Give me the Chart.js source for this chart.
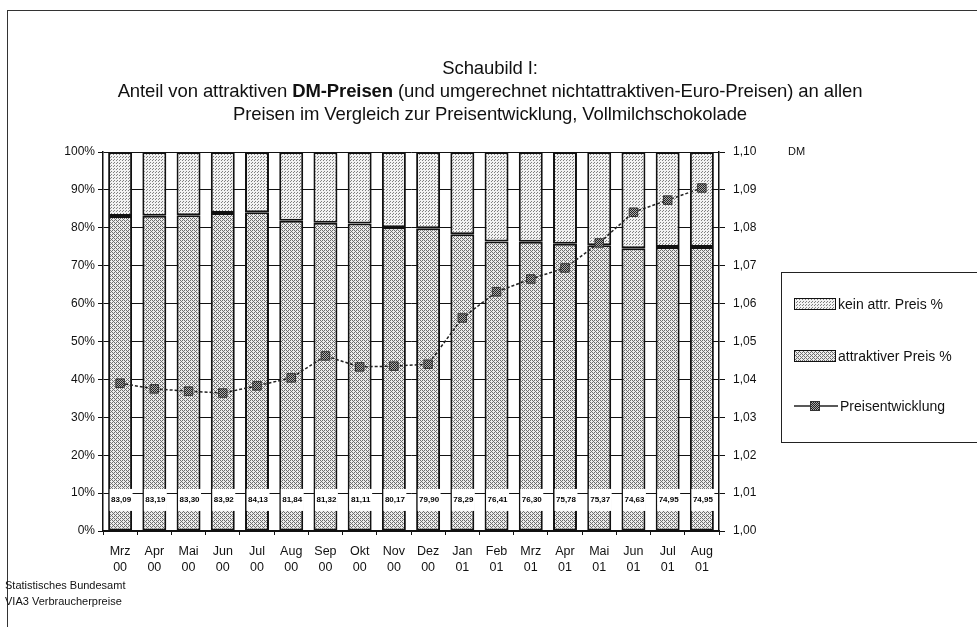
<!DOCTYPE html>
<html>
<head>
<meta charset="utf-8">
<script src="https://cdn.jsdelivr.net/npm/chart.js@4.4.0/dist/chart.umd.min.js"></script>
<style>
  body { margin: 0; background: #fff; font-family: "Liberation Sans", Arial, sans-serif; color: #111; }
  #wrap { position: relative; width: 977px; height: 627px; overflow: hidden; }
  #frame { position: absolute; left: 7px; top: 10px; width: 980px; height: 630px; border-top: 1px solid #333; border-left: 1px solid #333; }
  #c { position: absolute; left: 0; top: 0; }
  .t { position: absolute; left: 0; width: 980px; text-align: center; font-size: 18.5px; white-space: nowrap; letter-spacing: -0.1px; }
  .note { position: absolute; left: 5px; font-size: 11px; }
  #dm { position: absolute; left: 788px; top: 145px; font-size: 11px; }
  #legend { position: absolute; left: 781px; top: 272px; width: 220px; height: 169px; border: 1px solid #222; }
  .li { position: absolute; left: 12px; font-size: 14px; white-space: nowrap; }
  .li canvas { vertical-align: middle; margin-right: 2px; position: relative; top: -1px; }
</style>
</head>
<body>
<div id="wrap">
  <div id="frame"></div>
  <canvas id="c" width="977" height="627"></canvas>
  <div class="t" style="top:57px">Schaubild I:</div>
  <div class="t" style="top:80px">Anteil von attraktiven <b>DM-Preisen</b> (und umgerechnet nichtattraktiven-Euro-Preisen) an allen</div>
  <div class="t" style="top:103px">Preisen im Vergleich zur Preisentwicklung, Vollmilchschokolade</div>
  <div id="dm">DM</div>
  <div id="legend">
    <div class="li" style="top:23px"><canvas id="sw1" width="42" height="12"></canvas>kein attr. Preis %</div>
    <div class="li" style="top:75px"><canvas id="sw2" width="42" height="12"></canvas>attraktiver Preis %</div>
    <div class="li" style="top:125px"><canvas id="sw3" width="44" height="14"></canvas>Preisentwicklung</div>
  </div>
  <div class="note" style="top:579px">Statistisches Bundesamt</div>
  <div class="note" style="top:595px">VIA3 Verbraucherpreise</div>
</div>
<script>
var months = ['Mrz', 'Apr', 'Mai', 'Jun', 'Jul', 'Aug', 'Sep', 'Okt', 'Nov', 'Dez', 'Jan', 'Feb', 'Mrz', 'Apr', 'Mai', 'Jun', 'Jul', 'Aug'];
var years = ['00', '00', '00', '00', '00', '00', '00', '00', '00', '00', '01', '01', '01', '01', '01', '01', '01', '01'];
var attraktiv = [83.09, 83.19, 83.30, 83.92, 84.13, 81.84, 81.32, 81.11, 80.17, 79.90, 78.29, 76.41, 76.30, 75.78, 75.37, 74.63, 74.95, 74.95];
var keinAttr = [16.91, 16.81, 16.70, 16.08, 15.87, 18.16, 18.68, 18.89, 19.83, 20.10, 21.71, 23.59, 23.70, 24.22, 24.63, 25.37, 25.05, 25.05];
var preis = [1.0390, 1.0375, 1.0369, 1.0364, 1.0383, 1.0404, 1.0462, 1.0433, 1.0435, 1.0440, 1.0562, 1.0631, 1.0665, 1.0694, 1.0760, 1.0841, 1.0873, 1.0905];

var labels = months.map(function (m, i) { return [m, years[i]]; });

// dotted fills like the scanned print
function pattern(ctx, kind) {
    var p = document.createElement('canvas');
    var g = p.getContext('2d');
    if (kind === 'light') {
        p.width = 3; p.height = 3;
        g.fillStyle = '#f2f2f2'; g.fillRect(0, 0, 3, 3);
        g.fillStyle = '#808080'; g.fillRect(0, 0, 1, 1); g.fillRect(2, 1, 1, 1);
    } else if (kind === 'dark') {
        p.width = 4; p.height = 4;
        g.fillStyle = '#ececec'; g.fillRect(0, 0, 4, 4);
        g.fillStyle = '#6e6e6e';
        g.fillRect(0, 0, 1, 1); g.fillRect(2, 0, 1, 1); g.fillRect(1, 1, 1, 1);
        g.fillRect(0, 2, 1, 1); g.fillRect(3, 3, 1, 1); g.fillRect(2, 2, 1, 1);
    } else {
        p.width = 2; p.height = 2;
        g.fillStyle = '#aaa'; g.fillRect(0, 0, 2, 2);
        g.fillStyle = '#222'; g.fillRect(0, 0, 1, 1); g.fillRect(1, 1, 1, 1);
    }
    return ctx.createPattern(p, 'repeat');
}

var ctx = document.getElementById('c').getContext('2d');

// white boxes with the percentage near the bottom of each bar
var valueBoxes = {
    id: 'valueBoxes',
    afterDatasetsDraw: function (chart) {
        var c = chart.ctx, meta = chart.getDatasetMeta(0), ys = chart.scales.y;
        var yc = ys.getPixelForValue(8.2);
        c.save();
        meta.data.forEach(function (bar, i) {
            var w = bar.width;
            c.fillStyle = '#fff';
            c.fillRect(bar.x - w / 2 + 1.5, yc - 11, w - 1, 22);
            c.fillStyle = '#000';
            c.font = 'bold 8px "Liberation Sans", Arial, sans-serif';
            c.textAlign = 'center';
            c.textBaseline = 'middle';
            c.fillText(attraktiv[i].toFixed(2).replace('.', ','), bar.x + 1, yc);
        });
        c.restore();
    }
};

Chart.defaults.font.family = '"Liberation Sans", Arial, sans-serif';
Chart.defaults.color = '#111';

new Chart(ctx, {
    type: 'bar',
    data: {
        labels: labels,
        datasets: [{
            label: 'attraktiver Preis %',
            data: attraktiv,
            backgroundColor: pattern(ctx, 'dark'),
            borderColor: '#111',
            borderWidth: 2,
            borderSkipped: false,
            categoryPercentage: 1,
            barPercentage: 0.7,
            yAxisID: 'y',
            order: 2
        }, {
            label: 'kein attr. Preis %',
            data: keinAttr,
            backgroundColor: pattern(ctx, 'light'),
            borderColor: '#111',
            borderWidth: 2,
            borderSkipped: false,
            categoryPercentage: 1,
            barPercentage: 0.7,
            yAxisID: 'y',
            order: 2
        }, {
            type: 'line',
            label: 'Preisentwicklung',
            data: preis,
            yAxisID: 'y1',
            borderColor: '#222',
            borderWidth: 1.5,
            borderDash: [3, 2],
            pointStyle: 'rect',
            pointRadius: 6,
            pointBackgroundColor: pattern(ctx, 'marker'),
            pointBorderColor: '#333',
            pointBorderWidth: 1,
            tension: 0,
            order: 0
        }]
    },
    options: {
        responsive: false,
        animation: false,
        layout: { padding: { top: 152, left: 0, right: 0, bottom: 0 } },
        plugins: {
            legend: { display: false },
            tooltip: { enabled: false }
        },
        scales: {
            x: {
                stacked: true,
                grid: { drawOnChartArea: false, offset: true, color: '#111', tickLength: 4 },
                border: { color: '#111', width: 1.5 },
                ticks: { font: { size: 12.5, lineHeight: 1.3 }, maxRotation: 0, autoSkip: false, padding: 8 },
                afterFit: function (s) { s.height = 96; }
            },
            y: {
                stacked: true,
                min: 0,
                max: 100,
                ticks: { stepSize: 10, font: { size: 12 }, padding: 3, callback: function (v) { return v + '%'; } },
                grid: { color: '#111', lineWidth: 1, tickLength: 5 },
                border: { color: '#111', width: 1.5 },
                afterFit: function (s) { s.width = 103; }
            },
            y1: {
                position: 'right',
                min: 1.00,
                max: 1.10,
                ticks: { stepSize: 0.01, font: { size: 12 }, padding: 8, callback: function (v) { return v.toFixed(2).replace('.', ','); } },
                grid: { drawOnChartArea: false, color: '#111', tickLength: 6 },
                border: { color: '#111', width: 1.5 },
                afterFit: function (s) { s.width = 258; }
            }
        }
    },
    plugins: [valueBoxes]
});

// legend swatches
(function () {
    var s1 = document.getElementById('sw1').getContext('2d');
    s1.fillStyle = pattern(s1, 'light'); s1.fillRect(1, 1, 40, 10);
    s1.strokeStyle = '#111'; s1.lineWidth = 1; s1.strokeRect(0.5, 0.5, 41, 11);
    var s2 = document.getElementById('sw2').getContext('2d');
    s2.fillStyle = pattern(s2, 'dark'); s2.fillRect(1, 1, 40, 10);
    s2.strokeStyle = '#111'; s2.lineWidth = 1; s2.strokeRect(0.5, 0.5, 41, 11);
    var s3 = document.getElementById('sw3').getContext('2d');
    s3.strokeStyle = '#222'; s3.lineWidth = 1.5;
    s3.beginPath(); s3.moveTo(0, 7); s3.lineTo(44, 7); s3.stroke();
    s3.fillStyle = pattern(s3, 'marker'); s3.fillRect(16, 2, 10, 10);
    s3.strokeStyle = '#333'; s3.lineWidth = 1; s3.strokeRect(16.5, 2.5, 9, 9);
}());
</script>
</body>
</html>
